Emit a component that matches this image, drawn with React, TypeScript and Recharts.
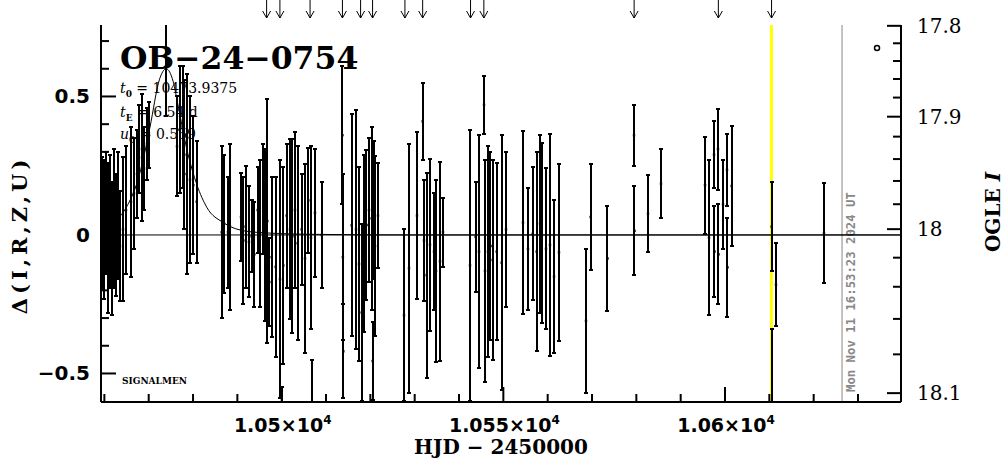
import React from 'react';
import {
  ComposedChart,
  XAxis,
  YAxis,
  Scatter,
  ErrorBar,
  Line,
  ReferenceLine,
  ReferenceDot,
  Customized,
} from 'recharts';

// ---------- data ----------
const obsDays = [
  10459.46, 10459.91, 10460.36, 10460.81, 10461.27, 10461.72, 10462.17, 10462.62, 10463.07, 10463.52, 10464.2, 10464.88,
  10466.0, 10466.68, 10467.36, 10467.81, 10468.49, 10468.94, 10469.62, 10470.07,
  10473.9,
  10476.38, 10476.95, 10477.67, 10478.03, 10478.57, 10479.31, 10480.06, 10480.83,
  10486.47, 10486.98, 10487.89, 10488.34, 10490.82, 10491.34, 10491.88, 10492.62, 10493.23, 10493.82, 10494.59,
  10495.1, 10495.85, 10496.23, 10496.75, 10497.2, 10497.74, 10498.65, 10499.62, 10500.0, 10500.36, 10501.13,
  10501.87, 10502.39, 10503.0, 10503.61, 10504.51, 10505.26, 10506.0, 10506.61, 10506.9, 10507.51, 10509.02,
  10513.7, 10513.8, 10513.9, 10515.79, 10516.76, 10517.44, 10518.05, 10518.57, 10519.13, 10519.69, 10520.3,
  10520.53, 10520.82, 10521.05, 10521.72,
  10527.59, 10528.72, 10530.52, 10531.81, 10532.1, 10532.71, 10533.45, 10534.36, 10534.81, 10535.71, 10536.39,
  10542.48, 10543.76, 10544.51, 10545.64, 10545.86, 10546.54, 10547.1, 10547.6, 10548.5, 10549.63, 10550.6,
  10554.43, 10555.56, 10556.62, 10557.52, 10558.27, 10558.65, 10559.62, 10560.52, 10561.43, 10562.55,
  10568.64, 10569.7, 10573.49, 10579.47, 10579.58, 10582.63, 10585.56,
  10595.49, 10596.39, 10597.52, 10597.63, 10598.42, 10598.53, 10599.55, 10600.45, 10600.56, 10601.51,
  10610.53, 10610.49, 10611.5, 10622.33,
];
const obsDelta = [
  0.04, 0.02, 0.08, -0.01, 0.05, -0.05, 0.06, 0.0, 0.07, -0.04, 0.02, 0.09,
  0.12, 0.15, 0.22, 0.31, 0.28, 0.24, 0.33, 0.36,
  0.9,
  0.32, 0.38, 0.39, 0.29, 0.22, 0.2, 0.18, 0.12,
  0.01, 0.04, 0.01, 0.03, 0.065, -0.02, 0.03, -0.025, -0.005, -0.07, 0.09,
  0.005, 0.13, 0.0, 0.05, -0.17, -0.08, -0.115, -0.16, -0.68, -0.11, 0.07,
  0.02, -0.005, 0.09, -0.03, 0.02, -0.085, 0.125, -0.01, -0.65, 0.08, 0.0,
  0.36, -0.08, -0.42, 0.035, 0.02, -0.105, -0.28, -0.03, 0.036, 0.09, 0.06,
  -0.455, 0.09, -0.04, 0.07,
  -0.29, -0.12, 0.07, 0.41, -0.02, -0.145, -0.035, -0.06, -0.13, -0.095, 0.01,
  -0.11, -0.007, -0.06, 0.47, -0.13, -0.06, -0.04, -0.09, -0.06, -0.1, 0.02,
  0.045, -0.05, 0.004, -0.06, 0.04, 0.007, -0.05, -0.036, -0.15, -0.063,
  -0.31, 0.065, -0.085, 0.36, 0.015, 0.077, 0.185,
  0.18, -0.01, 0.29, -0.06, 0.31, -0.07, 0.11, 0.235, -0.117, 0.177,
  0.03, -0.72, -0.18, 0.006,
];
const obsErr = [
  0.24, 0.25, 0.22, 0.27, 0.24, 0.24, 0.25, 0.22, 0.23, 0.2, 0.26, 0.23,
  0.27, 0.2, 0.16, 0.16, 0.23, 0.15, 0.13, 0.12,
  0.47,
  0.18, 0.23, 0.22, 0.27, 0.36, 0.3, 0.25, 0.22,
  0.31, 0.25, 0.2, 0.3, 0.16, 0.23, 0.22, 0.2, 0.13, 0.19, 0.155,
  0.265, 0.2, 0.31, 0.44, 0.16, 0.29, 0.325, 0.43, 0.13, 0.355, 0.26,
  0.325, 0.35, 0.28, 0.35, 0.2, 0.34, 0.19, 0.33, 0.2, 0.23, 0.19,
  0.25, 0.3, 0.17, 0.4, 0.43, 0.35, 0.32, 0.32, 0.27, 0.26, 0.33,
  0.14, 0.25, 0.325, 0.19,
  0.31, 0.45, 0.3, 0.14, 0.22, 0.37, 0.31, 0.21, 0.33, 0.36, 0.125,
  0.49, 0.2, 0.42, 0.105, 0.4, 0.38, 0.34, 0.36, 0.32, 0.46, 0.28,
  0.33, 0.22, 0.24, 0.36, 0.32, 0.325, 0.29, 0.4, 0.275, 0.32,
  0.26, 0.19, 0.19, 0.11, 0.16, 0.14, 0.125,
  0.175, 0.28, 0.12, 0.165, 0.146, 0.18, 0.16, 0.13, 0.18, 0.217,
  0.16, 0.38, 0.15, 0.18,
];

const modelDays = [
  10459.24, 10462.4, 10465.3, 10467.4, 10469.0, 10470.3, 10472.4, 10473.94, 10475.5, 10476.6, 10478.6, 10480.9,
  10483.1, 10486.8, 10490.6, 10495.8, 10508.6, 10530.0, 10639.7,
];
const modelDelta = [
  0.03, 0.05, 0.11, 0.19, 0.29, 0.39, 0.56, 0.6, 0.555, 0.47, 0.31, 0.18, 0.1, 0.045, 0.018, 0.008, 0.002, 0.0, 0.0,
];

const arrowDays = [
  10496.6, 10499.6, 10506.4, 10513.7, 10517.8, 10520.5, 10527.8, 10531.8, 10542.6, 10545.6, 10579.5, 10598.5, 10610.5,
];

const xTicks = [
  10460, 10470, 10480, 10490, 10500, 10510, 10520, 10530, 10540, 10550, 10560, 10570, 10580, 10590, 10600, 10610,
  10620, 10630,
];
const xMajorTicks = [10500, 10550, 10600];
const xMajorMantissa = ['1.05×10', '1.055×10', '1.06×10'];
const xMajorExponent = '4';

const leftTicks = [-0.5, -0.4, -0.3, -0.2, -0.1, 0, 0.1, 0.2, 0.3, 0.4, 0.5, 0.6, 0.7];
const leftMajorTicks = [-0.5, 0, 0.5];
const leftMajorLabels = ['−0.5', '0', '0.5'];

// OGLE I magnitude ticks, placed at the Δ positions where they sit on the right axis
const rightTickDeltas = [
  0.755, 0.692, 0.628, 0.563, 0.496, 0.427, 0.355, 0.274, 0.195, 0.111, 0.021, -0.082, -0.187, -0.303, -0.431, -0.571,
];
const rightTickLabels = [
  '17.8', '', '', '', '', '17.9', '', '', '', '', '18', '', '', '', '', '18.1',
];

const currentDay = 10610.47;
const nowDay = 10626.4;
const nowStamp = 'Mon Nov 11 16:53:23 2024 UT';
const eventName = 'OB−24−0754';
const t0Text = '10473.9375';
const tEText = '6.54';
const u0Text = '0.559';
const markerDay = 10634.29;
const markerDelta = 0.675;

const X_DOMAIN: [number, number] = [10459.24, 10639.7];
const Y_DOMAIN: [number, number] = [-0.603, 0.758];

const obsData = obsDays.map((d, i) => ({ x: d, y: obsDelta[i], err: obsErr[i] }));
const modelData = modelDays.map((d, i) => ({ x: d, y: modelDelta[i] }));

// layout
const W = 1004;
const H = 459;
const LEFT_W = 101;
const RIGHT_W = 103;
const TOP_H = 25;
const BOTTOM_H = 57;
const PLOT_W = W - LEFT_W - RIGHT_W;
const PLOT_H = H - TOP_H - BOTTOM_H;

// ---------- tick renderers ----------
const BottomTick = (props: any) => {
  const { x, y, payload } = props;
  const idx = xMajorTicks.indexOf(payload.value);
  const major = idx >= 0;
  return (
    <g>
      <line x1={x} x2={x} y1={y} y2={y - (major ? 15 : 8)} stroke="#000" strokeWidth={2} />
      {major && (
        <text
          x={x + 1}
          y={y + 30}
          textAnchor="middle"
          fontFamily="DejaVu Sans"
          fontWeight="bold"
          fontSize={19}
          fill="#000"
        >
          {xMajorMantissa[idx]}
          <tspan dy={-8} fontSize={12}>
            {xMajorExponent}
          </tspan>
        </text>
      )}
    </g>
  );
};

const TopFrameTick = (props: any) => {
  const { x, y, payload } = props;
  const major = xMajorTicks.indexOf(payload.value) >= 0;
  return <line x1={x} x2={x} y1={y} y2={y + (major ? 15 : 8)} stroke="#000" strokeWidth={2} />;
};

const ArrowTick = (props: any) => {
  const { x, y } = props;
  return (
    <g stroke="#000" strokeWidth={1} fill="none">
      <line x1={x} x2={x} y1={y - 25} y2={y - 7} />
      <polyline points={`${x - 4},${y - 14} ${x},${y - 7} ${x + 4},${y - 14}`} />
    </g>
  );
};

const LeftTick = (props: any) => {
  const { x, y, payload } = props;
  const idx = leftMajorTicks.findIndex((v) => Math.abs(v - payload.value) < 1e-6);
  const major = idx >= 0;
  return (
    <g>
      <line x1={x} x2={x + (major ? 15 : 8)} y1={y} y2={y} stroke="#000" strokeWidth={2} />
      {major && (
        <text
          x={x - 11}
          y={y + 7}
          textAnchor="end"
          fontFamily="DejaVu Sans"
          fontWeight="bold"
          fontSize={20}
          fill="#000"
        >
          {leftMajorLabels[idx]}
        </text>
      )}
    </g>
  );
};

const RightTick = (props: any) => {
  const { x, y, index } = props;
  const label = rightTickLabels[index];
  const major = label !== '';
  return (
    <g>
      <line x1={x} x2={x - (major ? 14 : 8)} y1={y} y2={y} stroke="#000" strokeWidth={2} />
      {major && (
        <text x={x + 16} y={y + 7} textAnchor="start" fontFamily="DejaVu Serif" fontSize={20} fill="#000">
          {label}
        </text>
      )}
    </g>
  );
};

const NowLabel = (props: any) => {
  const vb = props.viewBox || {};
  const bx = (vb.x || 0) + 13;
  const by = (vb.y || 0) + (vb.height || 0) - 10;
  return (
    <text
      transform={`translate(${bx},${by}) rotate(-90)`}
      fontFamily="DejaVu Sans Mono"
      fontWeight="bold"
      fontSize={12.3}
      fill="#888"
    >
      {nowStamp}
    </text>
  );
};

const Annotations = () => (
  <g>
    <text x={120} y={69} fontFamily="DejaVu Serif" fontWeight="bold" fontSize={31.5} fill="#000">
      {eventName}
    </text>
    <text x={120} y={93} fontFamily="DejaVu Serif" fontSize={14} fill="#000">
      <tspan fontStyle="italic">t</tspan>
      <tspan dy={4} fontSize={9} fontWeight="bold">
        0
      </tspan>
      <tspan dy={-4}>{` = ${t0Text}`}</tspan>
    </text>
    <text x={120} y={117} fontFamily="DejaVu Serif" fontSize={14} fill="#000">
      <tspan fontStyle="italic">t</tspan>
      <tspan dy={4} fontSize={9} fontWeight="bold">
        E
      </tspan>
      <tspan dy={-4}>{` = ${tEText} d`}</tspan>
    </text>
    <text x={120} y={139} fontFamily="DejaVu Serif" fontSize={14} fill="#000">
      <tspan fontStyle="italic">u</tspan>
      <tspan dy={4} fontSize={9} fontWeight="bold">
        0
      </tspan>
      <tspan dy={-4}>{` = ${u0Text}`}</tspan>
    </text>
    <text x={122} y={384} fontFamily="DejaVu Serif" fontWeight="bold" fontSize={9} fill="#000">
      SIGNALMEN
    </text>
    <text x={501} y={454} textAnchor="middle" fontFamily="DejaVu Serif" fontWeight="bold" fontSize={20} fill="#000">
      HJD − 2450000
    </text>
    <text
      transform="translate(27,235) rotate(-90)"
      textAnchor="middle"
      fontFamily="DejaVu Serif"
      fontWeight="bold"
      fontSize={21}
      letterSpacing={4}
      fill="#000"
    >
      Δ(I,R,Z,U)
    </text>
    <text
      transform="translate(1000,212) rotate(-90)"
      textAnchor="middle"
      fontFamily="DejaVu Serif"
      fontWeight="bold"
      fontSize={20}
      fill="#000"
    >
      OGLE <tspan fontStyle="italic">I</tspan>
    </text>
  </g>
);

const Dot = (props: any) => {
  const { cx, cy } = props;
  if (cx == null || cy == null) return <g />;
  return <rect x={cx - 1.2} y={cy - 1.2} width={2.4} height={2.4} fill="#000" />;
};

export default function App() {
  return (
    <div
      style={{
        position: 'fixed',
        left: 0,
        top: 0,
        width: W,
        height: H,
        background: '#fff',
        overflow: 'hidden',
      }}
    >
      {/* frame, axes, annotations */}
      <div style={{ position: 'absolute', left: 0, top: 0 }}>
        <ComposedChart width={W} height={H} margin={{ top: 0, right: 0, bottom: 0, left: 0 }}>
          <Customized component={Annotations} />
          <XAxis
            xAxisId="main"
            dataKey="x"
            type="number"
            domain={X_DOMAIN}
            allowDataOverflow
            orientation="bottom"
            height={BOTTOM_H}
            ticks={xTicks}
            interval={0}
            tickSize={0}
            tickMargin={0}
            tick={<BottomTick />}
            axisLine={{ stroke: '#000', strokeWidth: 2 }}
            tickLine={false}
          />
          <XAxis
            xAxisId="topFrame"
            dataKey="x"
            type="number"
            domain={X_DOMAIN}
            allowDataOverflow
            orientation="top"
            height={0}
            ticks={xTicks}
            interval={0}
            tickSize={0}
            tickMargin={0}
            tick={<TopFrameTick />}
            axisLine={{ stroke: '#000', strokeWidth: 2 }}
            tickLine={false}
          />
          <XAxis
            xAxisId="arrows"
            dataKey="x"
            type="number"
            domain={X_DOMAIN}
            allowDataOverflow
            orientation="top"
            height={TOP_H}
            ticks={arrowDays}
            interval={0}
            tickSize={0}
            tickMargin={0}
            tick={<ArrowTick />}
            axisLine={false}
            tickLine={false}
          />
          <YAxis
            yAxisId="left"
            type="number"
            domain={Y_DOMAIN}
            allowDataOverflow
            orientation="left"
            width={LEFT_W}
            ticks={leftTicks}
            interval={0}
            tickSize={0}
            tickMargin={0}
            tick={<LeftTick />}
            axisLine={{ stroke: '#000', strokeWidth: 2 }}
            tickLine={false}
          />
          <YAxis
            yAxisId="right"
            type="number"
            domain={Y_DOMAIN}
            allowDataOverflow
            orientation="right"
            width={RIGHT_W}
            ticks={rightTickDeltas}
            interval={0}
            tickSize={0}
            tickMargin={0}
            tick={<RightTick />}
            axisLine={{ stroke: '#000', strokeWidth: 2 }}
            tickLine={false}
          />
          <ReferenceLine xAxisId="main" yAxisId="left" x={currentDay} stroke="#ffff00" strokeWidth={3} />
          <ReferenceLine
            xAxisId="main"
            yAxisId="left"
            x={nowDay}
            stroke="#888"
            strokeWidth={1}
            label={<NowLabel />}
          />
          <ReferenceDot
            xAxisId="main"
            yAxisId="left"
            x={markerDay}
            y={markerDelta}
            r={2.5}
            fill="#fff"
            stroke="#000"
            strokeWidth={1.5}
          />
        </ComposedChart>
      </div>
      {/* data layer, clipped to the plot frame */}
      <div
        style={{
          position: 'absolute',
          left: LEFT_W,
          top: TOP_H,
          width: PLOT_W,
          height: PLOT_H,
          overflow: 'hidden',
        }}
      >
        <ComposedChart width={PLOT_W} height={PLOT_H} margin={{ top: 0, right: 0, bottom: 0, left: 0 }}>
          <XAxis dataKey="x" type="number" domain={X_DOMAIN} allowDataOverflow hide />
          <YAxis type="number" domain={Y_DOMAIN} allowDataOverflow hide />
          <ReferenceLine y={0} stroke="#000" strokeWidth={1} />
          <Line
            data={modelData}
            dataKey="y"
            type="monotone"
            stroke="#000"
            strokeWidth={1}
            dot={false}
            activeDot={false}
            isAnimationActive={false}
          />
          <Scatter data={obsData} dataKey="y" shape={<Dot />} isAnimationActive={false}>
            <ErrorBar
              dataKey="err"
              direction="y"
              width={2}
              stroke="#000"
              strokeWidth={2}
              shapeRendering="crispEdges"
              isAnimationActive={false}
            />
          </Scatter>
        </ComposedChart>
      </div>
    </div>
  );
}
